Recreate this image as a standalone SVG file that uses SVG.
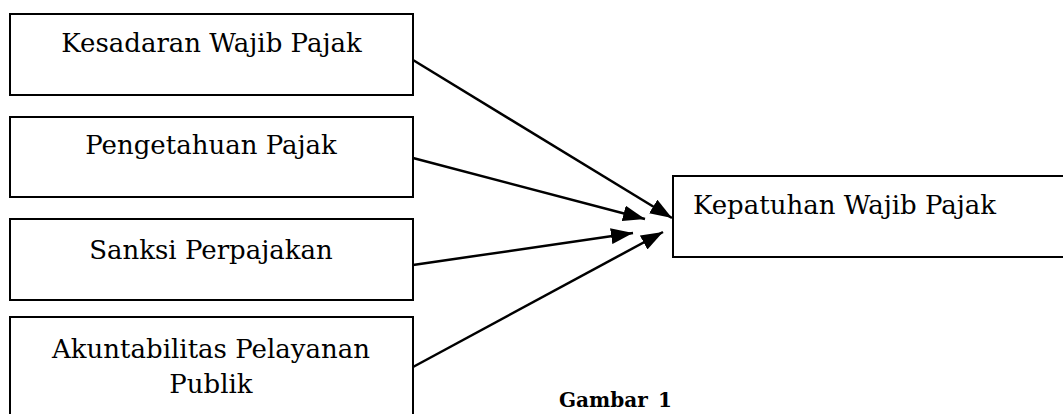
<svg xmlns="http://www.w3.org/2000/svg" width="1063" height="414" viewBox="0 0 1063 414">
<style>
.box{fill:#fff;stroke:#000;stroke-width:2}
.lbl{font-family:"DejaVu Serif",serif;font-size:26px;fill:#000}
.cap{font-family:"DejaVu Serif",serif;font-size:20px;font-weight:bold;fill:#000}
.con{stroke:#000;stroke-width:2.5;fill:none}
</style>
<defs>
<marker id="arr" markerUnits="userSpaceOnUse" markerWidth="22" markerHeight="16" refX="22" refY="8" orient="auto">
<path d="M0,0 L22,8 L0,16 Z" fill="#000"/>
</marker>
</defs>
<rect width="1063" height="414" fill="#fff"/>
<g id="n1"><rect class="box" x="10" y="14" width="403" height="81"/><text class="lbl" x="211.5" y="52" text-anchor="middle">Kesadaran Wajib Pajak</text></g>
<g id="n2"><rect class="box" x="10" y="117" width="403" height="80"/><text class="lbl" x="211" y="154" text-anchor="middle">Pengetahuan Pajak</text></g>
<g id="n3"><rect class="box" x="10" y="219" width="403" height="81"/><text class="lbl" x="211" y="259" text-anchor="middle">Sanksi Perpajakan</text></g>
<g id="n4"><rect class="box" x="10" y="317" width="403" height="110"/><text class="lbl" x="211" y="358" text-anchor="middle">Akuntabilitas Pelayanan</text><text class="lbl" x="211" y="393" text-anchor="middle">Publik</text></g>
<g id="n5"><rect class="box" x="673" y="176" width="400" height="81"/><text class="lbl" x="693" y="214">Kepatuhan Wajib Pajak</text></g>
<g id="connectors">
<line class="con" x1="413" y1="60" x2="672" y2="218" marker-end="url(#arr)"/>
<line class="con" x1="413" y1="158" x2="645" y2="219" marker-end="url(#arr)"/>
<line class="con" x1="413" y1="265" x2="633" y2="233" marker-end="url(#arr)"/>
<line class="con" x1="413" y1="367" x2="663" y2="232" marker-end="url(#arr)"/>
</g>
<text class="cap" x="559" y="407">Gambar<tspan x="658">1</tspan></text>
</svg>
